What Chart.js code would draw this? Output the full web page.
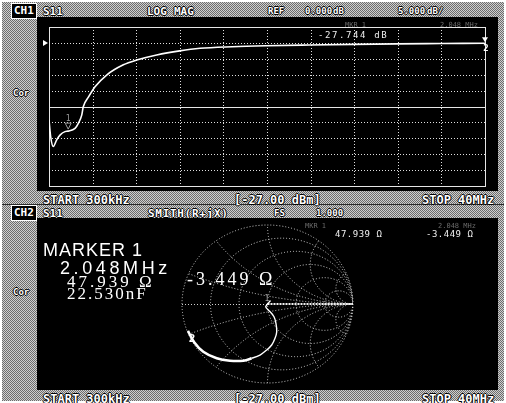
<!DOCTYPE html>
<html>
<head>
<meta charset="utf-8">
<script src="https://cdn.jsdelivr.net/npm/chart.js@4.4.0/dist/chart.umd.min.js"></script>
<style>
  html, body { margin: 0; padding: 0; background: #fff; }
  #screen { position: relative; width: 506px; height: 403px; overflow: hidden; background: #fff; }
  .dither { position: absolute; background: repeating-conic-gradient(#cfcfcf 0% 25%, #6c6c6c 0% 50%) 0 0 / 2px 2px; }
  .rule { position: absolute; background: #2a2a2a; }
  canvas { position: absolute; background: #000; }
  .lbl { position: absolute; white-space: nowrap; line-height: 1; color: #fff;
         font: bold 11px "DejaVu Sans Mono", monospace;
         text-shadow: -1px 0 #000, 1px 0 #000, 0 -1px #000, 0 1px #000; }
  .sm { font-size: 9px; }
  .st { font-size: 12px; }
  .box { background: #000; border: 1px solid #fff; padding: 0 2px 1px 2px; text-shadow: none; }
  .read { position: absolute; white-space: nowrap; line-height: 1; color: #f0f0f0;
          font: 9px "DejaVu Sans Mono", monospace; letter-spacing: 1.6px; }
  .faint { position: absolute; white-space: nowrap; line-height: 1; color: #6a6a6a;
           font: 7px "DejaVu Sans Mono", monospace; }
  .big { position: absolute; white-space: nowrap; line-height: 1; color: #fff; }
</style>
</head>
<body>
<div id="screen">
  <div class="dither" style="left:2px;top:2px;width:502px;height:399px;"></div>
  <div class="rule" style="left:2px;top:204px;width:502px;height:1px;"></div>

  <!-- channel 1 header -->
  <div class="lbl box" style="left:11px;top:3px;">CH1</div>
  <div class="lbl" style="left:43px;top:5px;">S11</div>
  <div class="lbl" style="left:147px;top:5px;">LOG</div>
  <div class="lbl" style="left:174px;top:5px;">MAG</div>
  <div class="lbl sm" style="left:268px;top:6px;">REF</div>
  <div class="lbl sm" style="left:305px;top:6px;">0.000</div>
  <div class="lbl sm" style="left:333px;top:6px;">dB</div>
  <div class="lbl sm" style="left:398px;top:6px;">5.000</div>
  <div class="lbl sm" style="left:427px;top:6px;">dB/</div>
  <div class="lbl sm" style="left:13px;top:88px;">Cor</div>

  <canvas id="logmag" width="461" height="174" style="left:37px;top:17px;"></canvas>

  <div class="lbl st" style="left:43px;top:193px;">START 300kHz</div>
  <div class="lbl st" style="left:234px;top:193px;">[-27.00 dBm]</div>
  <div class="lbl st" style="left:422px;top:193px;">STOP 40MHz</div>

  <!-- channel 2 header -->
  <div class="lbl box" style="left:11px;top:205px;">CH2</div>
  <div class="lbl" style="left:43px;top:207px;">S11</div>
  <div class="lbl" style="left:148px;top:207px;letter-spacing:0.7px;">SMITH(R+jX)</div>
  <div class="lbl sm" style="left:274px;top:208px;">FS</div>
  <div class="lbl sm" style="left:316px;top:208px;">1.000</div>
  <div class="lbl sm" style="left:13px;top:287px;">Cor</div>

  <canvas id="smith" width="461" height="172" style="left:37px;top:218px;"></canvas>

  <div class="lbl st" style="left:43px;top:392px;">START 300kHz</div>
  <div class="lbl st" style="left:234px;top:392px;">[-27.00 dBm]</div>
  <div class="lbl st" style="left:422px;top:392px;">STOP 40MHz</div>
</div>

<script>
// ---- sweep settings ----
const startMHz = 0.3;
const stopMHz = 40;
const refLevelDb = 0;
const dbPerDiv = 5;
const refDivFromTop = 1;      // reference line sits one division below the top
const divisions = 10;

// ---- CH1: S11 log magnitude trace ----
const freqMHz = [0.3, 0.45, 0.69, 1.0, 1.3, 1.76, 2.048, 2.67, 2.97, 3.28, 3.42, 3.9, 4.49,
                 5.55, 7.07, 8.28, 10.1, 12.2, 14.05, 17, 20, 24, 28, 32, 36, 40];
const s11Db = [-24.2, -29.5, -32.6, -30.5, -29.0, -27.9, -27.744, -26.9, -25.3, -22.7, -20.1, -17.0, -13.8,
               -10.1, -6.9, -5.4, -3.8, -2.5, -1.7, -1.2, -0.9, -0.65, -0.45, -0.3, -0.2, -0.1];

// ---- CH2: S11 on the Smith chart (reflection coefficient, re / im) ----
const gammaRe = [0.035, 0.010, -0.012, -0.020, -0.0198, -0.012, 0.029, 0.076, 0.099, 0.108, 0.088,
                 0.049, -0.009, -0.088, -0.185, -0.283, -0.439, -0.594, -0.751, -0.86, -0.93];
const gammaIm = [0.045, 0.012, -0.018, -0.030, -0.0359, -0.052, -0.097, -0.161, -0.244, -0.351, -0.434,
                 -0.519, -0.582, -0.646, -0.687, -0.718, -0.718, -0.687, -0.604, -0.48, -0.34];
const thickFromIndex = 14;

// ---- marker 1 readout ----
const marker1MHz = 2.048;
const marker1Db = -27.744;
const marker1R = 47.939;   // ohm
const marker1X = -3.449;   // ohm
const marker1CapNf = 22.530;
const z0 = 50;

const topDb = refLevelDb + refDivFromTop * dbPerDiv;
const bottomDb = topDb - divisions * dbPerDiv;

function addText(cls, text, left, top, style) {
  const d = document.createElement('div');
  d.className = cls;
  d.textContent = text;
  d.style.left = left + 'px';
  d.style.top = top + 'px';
  if (style) d.style.cssText += style;
  document.getElementById('screen').appendChild(d);
  return d;
}

// ---- trace grid for the log-mag display ----
const scopeGrid = {
  id: 'scopeGrid',
  beforeDatasetsDraw(chart) {
    const { ctx, chartArea: a, scales: { x, y } } = chart;
    ctx.save();
    ctx.lineWidth = 1;
    ctx.strokeStyle = '#e0e0e0';
    ctx.setLineDash([1, 2]);
    for (let k = 1; k < divisions; k++) {
      const px = Math.round(x.getPixelForValue(startMHz + k * (stopMHz - startMHz) / divisions)) + 0.5;
      ctx.beginPath(); ctx.moveTo(px, a.top); ctx.lineTo(px, a.bottom); ctx.stroke();
      if (k === divisions / 2) continue;
      const py = Math.round(y.getPixelForValue(topDb - k * dbPerDiv)) + 0.5;
      ctx.beginPath(); ctx.moveTo(a.left, py); ctx.lineTo(a.right, py); ctx.stroke();
    }
    ctx.setLineDash([]);
    ctx.strokeStyle = '#e6e6e6';
    const pc = Math.round(y.getPixelForValue(topDb - divisions / 2 * dbPerDiv)) + 0.5;
    ctx.beginPath(); ctx.moveTo(a.left, pc); ctx.lineTo(a.right, pc); ctx.stroke();
    ctx.strokeRect(Math.round(a.left) + 0.5, Math.round(a.top) + 0.5,
                   Math.round(a.right - a.left), Math.round(a.bottom - a.top));
    ctx.restore();
  },
  afterDatasetsDraw(chart) {
    const { ctx, chartArea: a, scales: { x, y } } = chart;
    ctx.save();
    // reference level pointer
    const yr = y.getPixelForValue(refLevelDb);
    ctx.fillStyle = '#fff';
    ctx.beginPath(); ctx.moveTo(a.left - 6, yr - 3); ctx.lineTo(a.left - 6, yr + 3); ctx.lineTo(a.left - 1, yr); ctx.fill();
    // marker 1
    const m1x = x.getPixelForValue(marker1MHz), m1y = y.getPixelForValue(marker1Db);
    ctx.strokeStyle = '#9a9a9a'; ctx.lineWidth = 1;
    ctx.beginPath(); ctx.moveTo(m1x - 3, m1y - 8); ctx.lineTo(m1x + 3, m1y - 8); ctx.lineTo(m1x, m1y - 2); ctx.closePath(); ctx.stroke();
    ctx.fillStyle = '#9a9a9a'; ctx.font = '8px "DejaVu Sans Mono"'; ctx.textAlign = 'center';
    ctx.fillText('1', m1x, m1y - 10);
    // marker 2 at the stop frequency
    const last = freqMHz.length - 1;
    const m2x = x.getPixelForValue(freqMHz[last]), m2y = y.getPixelForValue(s11Db[last]);
    ctx.fillStyle = '#fff';
    ctx.beginPath(); ctx.moveTo(m2x - 3, m2y - 6); ctx.lineTo(m2x + 3, m2y - 6); ctx.lineTo(m2x, m2y - 1); ctx.closePath(); ctx.fill();
    ctx.font = 'bold 9px "DejaVu Sans Mono"';
    ctx.fillText('2', m2x + 1, m2y + 8);
    ctx.restore();
  }
};

new Chart(document.getElementById('logmag'), {
  type: 'line',
  data: {
    datasets: [{
      data: freqMHz.map((f, i) => ({ x: f, y: s11Db[i] })),
      borderColor: '#ffffff',
      borderWidth: 1.6,
      pointRadius: 0,
      cubicInterpolationMode: 'monotone',
      fill: false
    }]
  },
  options: {
    responsive: false,
    animation: false,
    events: [],
    layout: { padding: { left: 12, right: 13, top: 10, bottom: 5 } },
    plugins: { legend: { display: false }, tooltip: { enabled: false } },
    scales: {
      x: { type: 'linear', display: false, min: startMHz, max: stopMHz },
      y: { type: 'linear', display: false, min: bottomDb, max: topDb }
    }
  },
  plugins: [scopeGrid]
});

// ---- Smith chart grid ----
const resistanceCircles = [0.2, 0.5, 1, 2, 5];
const reactanceArcs = [0.2, 0.5, 1, 2, 5];

const smithGrid = {
  id: 'smithGrid',
  beforeDatasetsDraw(chart) {
    const { ctx, scales: { x, y } } = chart;
    const cx = x.getPixelForValue(0), cy = y.getPixelForValue(0);
    const sx = x.getPixelForValue(1) - cx, sy = cy - y.getPixelForValue(1);
    const ell = (u, v, r) => { ctx.beginPath(); ctx.ellipse(cx + u * sx, cy - v * sy, Math.abs(r * sx), Math.abs(r * sy), 0, 0, Math.PI * 2); };
    ctx.save();
    ctx.lineWidth = 1;
    ctx.strokeStyle = '#cfcfcf';
    ctx.setLineDash([1, 2]);
    ell(0, 0, 1); ctx.stroke();
    ell(0, 0, 1); ctx.clip();
    for (const r of resistanceCircles) { ell(r / (1 + r), 0, 1 / (1 + r)); ctx.stroke(); }
    for (const xv of reactanceArcs) {
      ell(1, 1 / xv, 1 / xv); ctx.stroke();
      ell(1, -1 / xv, 1 / xv); ctx.stroke();
    }
    ctx.beginPath(); ctx.moveTo(cx - sx, cy + 0.5); ctx.lineTo(cx, cy + 0.5); ctx.stroke();
    ctx.lineWidth = 2; ctx.strokeStyle = '#f2f2f2'; ctx.setLineDash([2, 1]);
    ctx.beginPath(); ctx.moveTo(cx, cy); ctx.lineTo(cx + sx, cy); ctx.stroke();
    ctx.restore();
  },
  afterDatasetsDraw(chart) {
    const { ctx, scales: { x, y } } = chart;
    // marker 1 from its impedance readout
    const nr = marker1R - z0, nd = marker1R + z0, xi = marker1X;
    const den = nd * nd + xi * xi;
    const gRe = (nr * nd + xi * xi) / den;
    const gIm = (xi * nd - nr * xi) / den;
    const m1x = x.getPixelForValue(gRe), m1y = y.getPixelForValue(gIm);
    ctx.save();
    ctx.fillStyle = '#a0a0a0'; ctx.font = '8px "DejaVu Sans Mono"'; ctx.textAlign = 'center';
    ctx.fillText('1', m1x + 1, m1y - 6);
    const last = gammaRe.length - 1;
    const m2x = x.getPixelForValue(gammaRe[last]), m2y = y.getPixelForValue(gammaIm[last]);
    ctx.fillStyle = '#fff'; ctx.font = 'bold 11px "DejaVu Sans Mono"';
    ctx.fillText('2', m2x + 4, m2y + 11);
    ctx.restore();
  }
};

new Chart(document.getElementById('smith'), {
  type: 'scatter',
  data: {
    datasets: [{
      data: gammaRe.map((re, i) => ({ x: re, y: gammaIm[i] })),
      showLine: true,
      borderColor: '#ffffff',
      borderWidth: 1.5,
      pointRadius: 0,
      tension: 0.35,
      segment: { borderWidth: c => (c.p0DataIndex >= thickFromIndex ? 2.6 : 1.4) }
    }]
  },
  options: {
    responsive: false,
    animation: false,
    events: [],
    layout: { padding: { left: 145, right: 145, top: 7, bottom: 7 } },
    plugins: { legend: { display: false }, tooltip: { enabled: false } },
    scales: {
      x: { type: 'linear', display: false, min: -1, max: 1 },
      y: { type: 'linear', display: false, min: -1, max: 1 }
    }
  },
  plugins: [smithGrid]
});

// ---- marker readouts ----
const fmtOhm = v => v.toFixed(3) + ' \u03a9';

addText('faint', 'MKR 1', 345, 21);
addText('faint', marker1MHz.toFixed(3) + ' MHz', 440, 21);
addText('read', marker1Db.toFixed(3) + ' dB', 318, 30);

addText('faint', 'MKR 1', 305, 222);
addText('faint', marker1MHz.toFixed(3) + ' MHz', 438, 222);
addText('read', fmtOhm(marker1R), 335, 229, 'letter-spacing:0.5px;');
addText('read', fmtOhm(marker1X), 426, 229, 'letter-spacing:0.5px;');

addText('big', 'MARKER  1', 43, 240, 'font:18px "Liberation Sans",sans-serif;letter-spacing:1px;');
addText('big', marker1MHz.toFixed(3) + 'MHz', 60, 258, 'font:18px "Liberation Sans",sans-serif;letter-spacing:3.6px;');
addText('big', fmtOhm(marker1R), 67, 272, 'font:17px "Liberation Serif",serif;letter-spacing:3px;');
addText('big', marker1CapNf.toFixed(3) + 'nF', 67, 284, 'font:17px "Liberation Serif",serif;letter-spacing:2px;');
addText('big', fmtOhm(marker1X), 187, 269, 'font:18px "Liberation Serif",serif;letter-spacing:3px;');
</script>
</body>
</html>
